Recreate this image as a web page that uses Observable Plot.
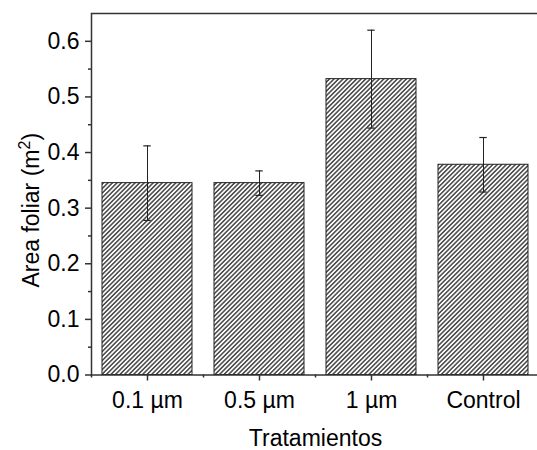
<!DOCTYPE html>
<html>
<head>
<meta charset="utf-8">
<script src="https://cdn.jsdelivr.net/npm/d3@7"></script>
<script src="https://cdn.jsdelivr.net/npm/@observablehq/plot@0.6"></script>
<style>
  html, body { margin: 0; padding: 0; background: #fff; overflow: hidden; }
  #chart svg { overflow: hidden; display: block; }
</style>
</head>
<body>
<div id="chart"></div>
<script>
// ---- data ----
const categories = ["0.1 µm", "0.5 µm", "1 µm", "Control"];
const means = [0.345, 0.345, 0.532, 0.378];
const errors = [0.067, 0.022, 0.088, 0.049];
const yTicks = [0, 0.1, 0.2, 0.3, 0.4, 0.5, 0.6];
const yMinorTicks = [0.05, 0.15, 0.25, 0.35, 0.45, 0.55];
const xLabel = "Tratamientos";
const yLabel = "Area foliar (m2)";

const data = categories.map((c, i) => ({cat: c, mean: means[i], err: errors[i]}));

// ---- layout ----
const W = 537, H = 450;
const mL = 91, mR = -2, mT = 13, mB = 75.5;
const padInner = 0.2, padOuter = 0.1;
const step = (W - mL - mR) / (categories.length - padInner + 2 * padOuter);
const bandwidth = step * (1 - padInner);
const capW = 7;
const capInset = (bandwidth - capW) / 2;
const font = "'Liberation Sans', Arial, sans-serif";

const chart = Plot.plot({
  width: W,
  height: H,
  marginLeft: mL,
  marginRight: mR,
  marginTop: mT,
  marginBottom: mB,
  style: {fontFamily: font, background: "#fff", color: "#000"},
  x: {domain: categories, paddingInner: padInner, paddingOuter: padOuter, axis: null},
  y: {domain: [0, 0.65], axis: null},
  marks: [
    Plot.barY(data, {x: "cat", y: "mean", fill: "url(#hatch)", stroke: "#222", strokeWidth: 1}),
    Plot.ruleX(data, {x: "cat", y1: d => d.mean - d.err, y2: d => d.mean + d.err, stroke: "#222", strokeWidth: 1}),
    Plot.tickY(data, {x: "cat", y: d => d.mean + d.err, stroke: "#222", strokeWidth: 1.2, insetLeft: capInset, insetRight: capInset}),
    Plot.tickY(data, {x: "cat", y: d => d.mean - d.err, stroke: "#222", strokeWidth: 1.2, insetLeft: capInset, insetRight: capInset}),
    Plot.frame({stroke: "#333", strokeWidth: 1.5}),
    Plot.axisY({ticks: yTicks, tickFormat: d3.format(".1f"), tickSize: 6, tickPadding: 6, fontSize: 23, strokeWidth: 1.5, stroke: "#333", fill: "#000", label: null}),
    Plot.axisY({ticks: yMinorTicks, tickFormat: () => "", tickSize: 3, strokeWidth: 1.5, stroke: "#333", label: null}),
    Plot.axisX({tickSize: 6, tickPadding: 11, fontSize: 23, strokeWidth: 1.5, stroke: "#333", fill: "#000", label: null}),
    Plot.axisX({tickSize: 3, dx: -step / 2, tickFormat: () => "", strokeWidth: 1.5, stroke: "#333", label: null}),
    Plot.text([xLabel], {frameAnchor: "bottom", lineAnchor: "bottom", dy: 71, fontSize: 23, fill: "#000", className: "xlabel"}),
    Plot.text([yLabel], {frameAnchor: "left", rotate: -90, lineAnchor: "bottom", textAnchor: "middle", dx: -53, dy: 16, fontSize: 23, fill: "#000", className: "ylabel"})
  ]
});

// hatch pattern definition
const svg = d3.select(chart);
const defs = svg.insert("defs", ":first-child");
const P = 3.2;
const pat = defs.append("pattern")
  .attr("id", "hatch")
  .attr("patternUnits", "userSpaceOnUse")
  .attr("width", P)
  .attr("height", P)
  .attr("patternTransform", "rotate(45)");
pat.append("rect").attr("width", P).attr("height", P).attr("fill", "#fff");
pat.append("line").attr("x1", P / 4).attr("y1", 0).attr("x2", P / 4).attr("y2", P)
  .attr("stroke", "#000").attr("stroke-width", 1.1);

// superscript for the y label
svg.selectAll("g.ylabel text").each(function() {
  const t = d3.select(this);
  t.text(null);
  t.append("tspan").text("Area foliar (m");
  t.append("tspan").text("2").attr("font-size", 16).attr("dy", -9);
  t.append("tspan").text(")").attr("dy", 9);
});

document.getElementById("chart").appendChild(chart);
</script>
</body>
</html>
